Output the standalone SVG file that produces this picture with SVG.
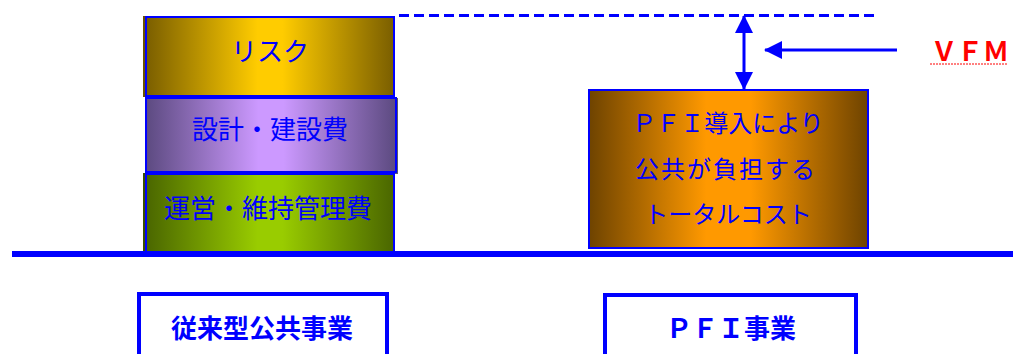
<svg xmlns="http://www.w3.org/2000/svg" width="1013" height="354" viewBox="0 0 1013 354">
<style>
.jp{font-family:"Noto Sans CJK JP","Noto Sans",sans-serif;fill:#0000ff;text-anchor:middle;dominant-baseline:central}
.box{stroke:#0000ff;stroke-width:2}
.lbl{fill:#ffffff;stroke:#0000ff;stroke-width:4}
.conn{stroke:#0000ff;stroke-width:3;fill:none}
</style>
<defs>
<linearGradient id="gRisk" x1="0" x2="1" y1="0" y2="0">
<stop offset="0" stop-color="#7a5e00"/><stop offset="0.45" stop-color="#ffcc00"/><stop offset="0.55" stop-color="#ffcc00"/><stop offset="1" stop-color="#7a5e00"/>
</linearGradient>
<linearGradient id="gDesign" x1="0" x2="1" y1="0" y2="0">
<stop offset="0" stop-color="#5c4a80"/><stop offset="0.45" stop-color="#cc99ff"/><stop offset="0.55" stop-color="#cc99ff"/><stop offset="1" stop-color="#5c4a80"/>
</linearGradient>
<linearGradient id="gOps" x1="0" x2="1" y1="0" y2="0">
<stop offset="0" stop-color="#4a6600"/><stop offset="0.45" stop-color="#99cc00"/><stop offset="0.55" stop-color="#99cc00"/><stop offset="1" stop-color="#4a6600"/>
</linearGradient>
<linearGradient id="gPfi" x1="0" x2="1" y1="0" y2="0">
<stop offset="0" stop-color="#6e4300"/><stop offset="0.42" stop-color="#ff9900"/><stop offset="0.58" stop-color="#ff9900"/><stop offset="1" stop-color="#6e4300"/>
</linearGradient>
<marker id="ah" viewBox="0 0 18 18" markerUnits="userSpaceOnUse" markerWidth="18" markerHeight="18" refX="17" refY="9" orient="auto-start-reverse">
<path d="M0,0 L18,9 L0,18 z" fill="#0000ff"/>
</marker>
</defs>

<g id="risk">
<rect x="143" y="16" width="252" height="81" fill="#6b5200"/>
<rect x="146" y="17" width="248" height="79" fill="url(#gRisk)" class="box"/>
<text class="jp" x="270" y="49" font-size="26">リスク</text>
</g>
<g id="design">
<rect x="146" y="98" width="252" height="76" fill="#5a5a6a"/>
<rect x="146" y="98" width="250" height="74" fill="url(#gDesign)" class="box"/>
<text class="jp" x="270" y="127" font-size="26">設計・建設費</text>
</g>
<g id="operation">
<rect x="143" y="173" width="252" height="80" fill="#3a5000"/>
<rect x="146" y="174" width="248" height="79" fill="url(#gOps)" class="box"/>
<text class="jp" x="268" y="206" font-size="26">運営・維持管理費</text>
</g>

<g id="pfi-cost">
<rect x="589" y="90" width="279" height="158" fill="url(#gPfi)" class="box"/>
<text class="jp" x="728" y="121" font-size="24">ＰＦＩ導入により</text>
<text class="jp" x="726" y="167" font-size="24" letter-spacing="2">公共が負担する</text>
<text class="jp" x="728" y="212" font-size="24">トータルコスト</text>
</g>

<g id="vfm">
<text x="970" y="49" font-family="Noto Sans CJK JP,Noto Sans,sans-serif" font-size="26" font-weight="bold" fill="#ff0000" text-anchor="middle" dominant-baseline="central">ＶＦＭ</text>
<line x1="930" y1="64" x2="1008" y2="64" stroke="#ff0000" stroke-width="1" stroke-dasharray="2 1"/>
</g>

<g id="label-conventional">
<rect x="139" y="294" width="248" height="70" class="lbl"/>
<text class="jp" x="262" y="326" font-size="26" font-weight="bold">従来型公共事業</text>
</g>
<g id="label-pfi">
<rect x="605" y="295" width="251" height="70" class="lbl"/>
<text class="jp" x="731" y="326" font-size="26" font-weight="bold">ＰＦＩ事業</text>
</g>

<g id="connectors">
<rect x="12" y="251" width="1001" height="6" fill="#0000ff"/>
<line x1="399" y1="15.5" x2="878" y2="15.5" stroke="#0000ff" stroke-width="3" stroke-dasharray="10 5"/>
<line x1="744" y1="16" x2="744" y2="89" class="conn" marker-start="url(#ah)" marker-end="url(#ah)"/>
<line x1="897" y1="50" x2="765" y2="50" class="conn" marker-end="url(#ah)"/>
</g>
</svg>
